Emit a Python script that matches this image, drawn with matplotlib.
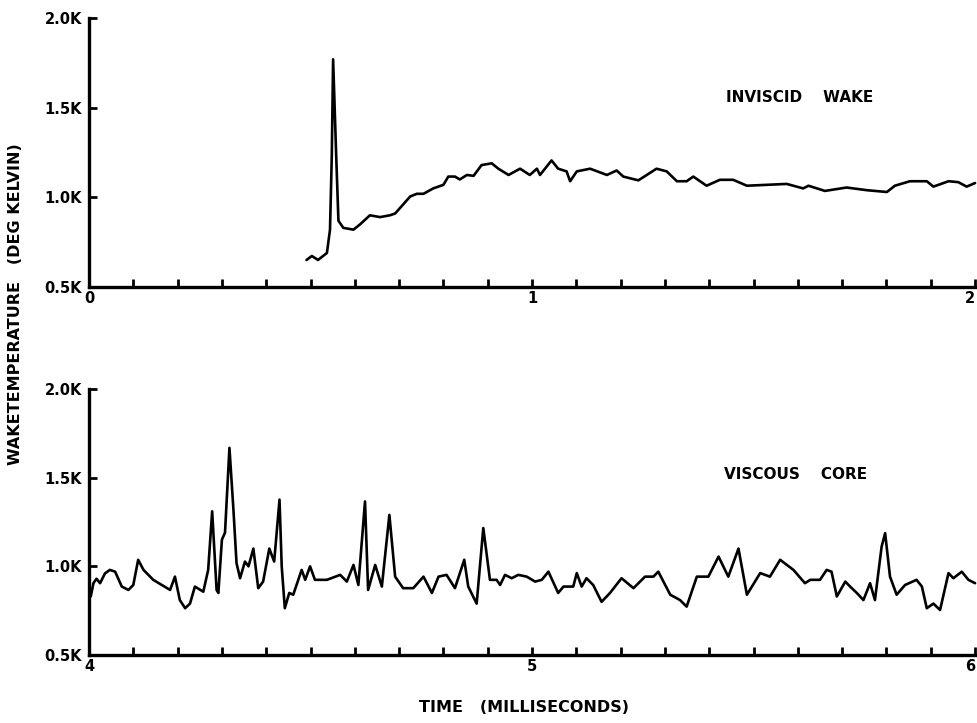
import numpy as np
import matplotlib.pyplot as plt


# inviscid wake trace (time in ms, temperature in K x 1000)
inviscid_t = [0.491, 0.503, 0.517, 0.537, 0.544, 0.548, 0.551, 0.558, 0.563, 0.574,
              0.597, 0.612, 0.634, 0.657, 0.679, 0.691, 0.725, 0.740, 0.755, 0.777,
              0.800, 0.811, 0.826, 0.837, 0.853, 0.868, 0.886, 0.909, 0.924, 0.947,
              0.973, 0.995, 1.011, 1.018, 1.044, 1.059, 1.078, 1.086, 1.101, 1.131,
              1.169, 1.191, 1.206, 1.240, 1.281, 1.304, 1.327, 1.349, 1.364, 1.394,
              1.424, 1.454, 1.485, 1.530, 1.575, 1.612, 1.624, 1.661, 1.710, 1.756,
              1.801, 1.819, 1.853, 1.891, 1.906, 1.940, 1.962, 1.981, 2.0]
inviscid_k = [0.651, 0.673, 0.651, 0.69, 0.82, 1.23, 1.77, 1.23, 0.87, 0.83,
              0.82, 0.85, 0.90, 0.89, 0.90, 0.91, 1.005, 1.02, 1.02, 1.05,
              1.07, 1.116, 1.116, 1.10, 1.125, 1.12, 1.18, 1.19, 1.16, 1.125,
              1.16, 1.125, 1.16, 1.125, 1.206, 1.16, 1.145, 1.09, 1.145, 1.16,
              1.125, 1.15, 1.116, 1.095, 1.16, 1.145, 1.09, 1.09, 1.116, 1.065,
              1.098, 1.098, 1.065, 1.07, 1.075, 1.05, 1.065, 1.036, 1.055, 1.04,
              1.03, 1.065, 1.09, 1.09, 1.06, 1.09, 1.085, 1.06, 1.08]

# viscous core trace
viscous_t = [4.004, 4.010, 4.017, 4.025, 4.036, 4.047, 4.059, 4.074, 4.089, 4.100,
             4.111, 4.123, 4.145, 4.183, 4.194, 4.205, 4.217, 4.228, 4.239, 4.258,
             4.269, 4.278, 4.288, 4.292, 4.300, 4.307, 4.317, 4.326, 4.333, 4.341,
             4.352, 4.360, 4.371, 4.382, 4.393, 4.407, 4.418, 4.430, 4.435, 4.442,
             4.452, 4.461, 4.480, 4.488, 4.499, 4.510, 4.537, 4.567, 4.582, 4.597,
             4.608, 4.616, 4.623, 4.630, 4.646, 4.661, 4.678, 4.691, 4.709, 4.732,
             4.755, 4.774, 4.789, 4.807, 4.826, 4.847, 4.856, 4.875, 4.890, 4.905,
             4.920, 4.928, 4.939, 4.954, 4.969, 4.988, 5.007, 5.022, 5.037, 5.059,
             5.071, 5.093, 5.101, 5.112, 5.123, 5.138, 5.157, 5.176, 5.202, 5.229,
             5.255, 5.274, 5.285, 5.312, 5.334, 5.349, 5.372, 5.398, 5.421, 5.443,
             5.466, 5.485, 5.515, 5.537, 5.560, 5.590, 5.616, 5.628, 5.650, 5.665,
             5.676, 5.688, 5.707, 5.718, 5.733, 5.748, 5.763, 5.774, 5.789, 5.797,
             5.808, 5.823, 5.842, 5.868, 5.880, 5.891, 5.906, 5.921, 5.940, 5.951,
             5.970, 5.985, 6.0]
viscous_k = [0.83, 0.905, 0.93, 0.905, 0.96, 0.98, 0.97, 0.886, 0.867, 0.895,
             1.037, 0.98, 0.924, 0.867, 0.942, 0.81, 0.764, 0.79, 0.886, 0.857,
             0.98, 1.31, 0.867, 0.85, 1.15, 1.19, 1.668, 1.32, 1.018, 0.933,
             1.027, 1.0, 1.10, 0.877, 0.914, 1.10, 1.027, 1.376, 1.0, 0.764,
             0.85, 0.84, 0.98, 0.924, 1.0, 0.924, 0.924, 0.952, 0.914, 1.008,
             0.895, 1.15, 1.366, 0.867, 1.008, 0.886, 1.29, 0.942, 0.877, 0.877,
             0.942, 0.85, 0.942, 0.952, 0.877, 1.037, 0.886, 0.79, 1.216, 0.924,
             0.924, 0.895, 0.952, 0.933, 0.952, 0.942, 0.914, 0.924, 0.97, 0.85,
             0.886, 0.886, 0.962, 0.886, 0.933, 0.895, 0.80, 0.85, 0.933, 0.877,
             0.942, 0.942, 0.97, 0.84, 0.81, 0.773, 0.942, 0.942, 1.055, 0.942,
             1.10, 0.84, 0.962, 0.942, 1.037, 0.98, 0.905, 0.924, 0.924, 0.98,
             0.97, 0.83, 0.914, 0.886, 0.85, 0.81, 0.905, 0.81, 1.11, 1.187,
             0.942, 0.84, 0.895, 0.924, 0.886, 0.764, 0.79, 0.754, 0.962, 0.933,
             0.97, 0.924, 0.905]

y_ticks = [0.5, 1.0, 1.5, 2.0]
y_tick_labels = ["0.5K", "1.0K", "1.5K", "2.0K"]


def style_panel(ax, x0, labels):
    for side in ["top", "right"]:
        ax.spines[side].set_visible(False)
    for side in ["left", "bottom"]:
        ax.spines[side].set_linewidth(2.4)
    ax.set_xlim(x0, x0 + 2)
    ax.set_ylim(0.5, 2.0)
    ax.set_xticks(np.arange(0, 21) / 10 + x0, minor=True)
    ax.set_xticks([x0, x0 + 1, x0 + 2])
    ax.set_xticklabels(labels, fontsize=10.5, fontweight="bold")
    ax.set_yticks(y_ticks)
    ax.set_yticklabels(y_tick_labels, fontsize=10.5, fontweight="bold")
    ax.tick_params(axis="x", which="both", direction="in", length=6, width=2, pad=3)
    ax.tick_params(axis="y", direction="in", length=6, width=2, pad=5)
    # last label sits at the right edge of the figure
    ax.get_xticklabels()[-1].set_horizontalalignment("right")


fig = plt.figure(figsize=(9.78, 7.23), dpi=100)
ax1 = fig.add_axes([0.091, 0.603, 0.906, 0.372])
ax2 = fig.add_axes([0.091, 0.094, 0.906, 0.368])

ax1.plot(inviscid_t, inviscid_k, color="black", linewidth=1.9,
         solid_joinstyle="round", solid_capstyle="round", clip_on=False)
ax2.plot(viscous_t, viscous_k, color="black", linewidth=1.9,
         solid_joinstyle="round", solid_capstyle="round", clip_on=False)

style_panel(ax1, 0, ["0", "1", "2"])
style_panel(ax2, 4, ["4", "5", "6"])

ax1.text(1.605, 1.556, "INVISCID    WAKE", fontsize=11, fontweight="bold",
         ha="center", va="center")
ax2.text(5.594, 1.517, "VISCOUS    CORE", fontsize=11, fontweight="bold",
         ha="center", va="center")

fig.text(0.016, 0.58, "WAKETEMPERATURE   (DEG KELVIN)", rotation=90,
         fontsize=11.5, fontweight="bold", ha="center", va="center")
fig.text(0.536, 0.022, "TIME   (MILLISECONDS)", fontsize=11.5,
         fontweight="bold", ha="center", va="center")

fig.savefig("out.png", dpi=100)
